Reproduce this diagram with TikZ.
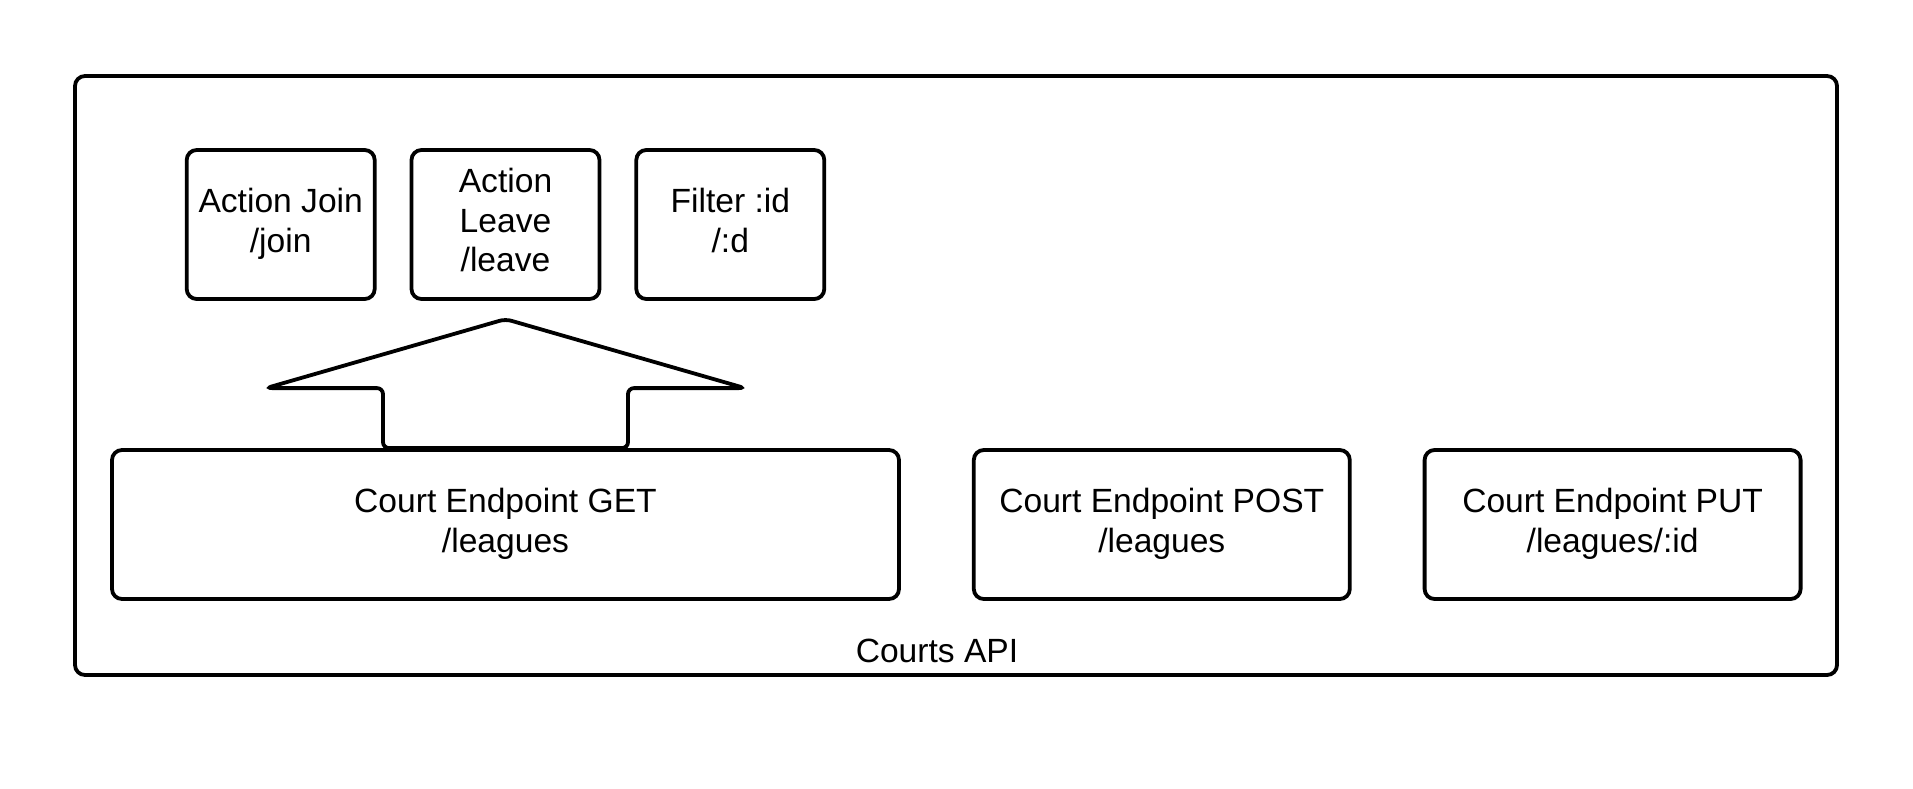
\documentclass[tikz,border=0pt]{standalone}
\usepackage{fontspec}
\setmainfont{Liberation Sans}
\usetikzlibrary{positioning}

\begin{document}
\begin{tikzpicture}[x=0.5pt, y=-0.5pt, line width=1.9pt,
  every node/.style={font=\fontsize{16.8}{19.8}\selectfont, align=center},
  box/.style={draw, rounded corners=5pt, inner sep=0pt},
  action/.style={box, minimum width=94pt, minimum height=74.5pt},
  endpoint/.style={box, minimum width=188pt, minimum height=74.5pt}]
\fill[white, use as bounding box] (0,0) rectangle (1913,788);
\node[box, minimum width=881pt, minimum height=299.5pt] (api) at (956,375.5) {};
\node (apilabel) at (937,651) {Courts API};
\node[action] (leave) at (505.5,224.5) {Action\\Leave\\/leave\\[-15.5pt]};
\node[action, left=16.5pt of leave] (join) {Action Join\\/join\\[-15.5pt]};
\node[action, right=16.5pt of leave] (filter) {Filter :id\\/:d\\[-15.5pt]};
\node[endpoint, minimum width=393.5pt] (get) at (505.5,524.5) {Court Endpoint GET\\/leagues\\[-15.5pt]};
\node[endpoint, right=35.5pt of get] (post) {Court Endpoint POST\\/leagues\\[-15.5pt]};
\node[endpoint, right=35.5pt of post] (put) {Court Endpoint PUT\\/leagues/:id\\[-15.5pt]};
% block arrow from get up to leave
\draw[rounded corners=3pt] (get.north) -- ++(-122.5,0) -- ++(0,-60) -- ++(-117,0)
  -- ++(239.5,-69) -- ++(239.5,69) -- ++(-117,0) -- ++(0,60) -- cycle;
\end{tikzpicture}
\end{document}
